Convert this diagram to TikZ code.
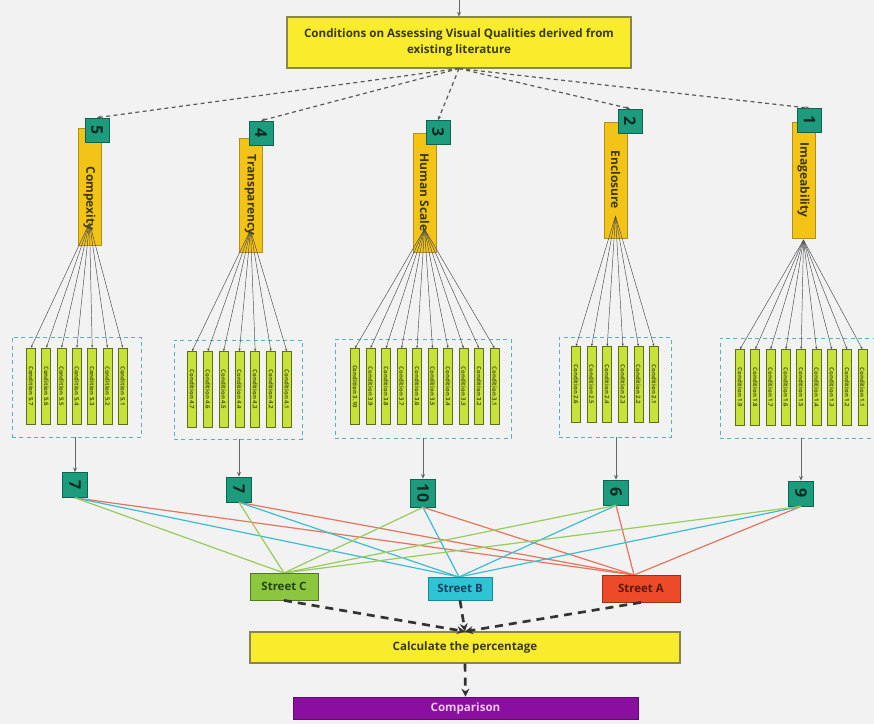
\documentclass[tikz,border=0pt]{standalone}
\usepackage{fontspec}
\setmainfont{Open Sans}
\usetikzlibrary{arrows.meta}
\definecolor{bgc}{HTML}{F2F2F2}
\definecolor{topfill}{HTML}{F8EC2C}
\definecolor{topbd}{HTML}{8A8550}
\definecolor{darktext}{HTML}{3A3A10}
\definecolor{catfill}{HTML}{F3C316}
\definecolor{catbd}{HTML}{B0901A}
\definecolor{numfill}{HTML}{1C9C7C}
\definecolor{numbd}{HTML}{0F6450}
\definecolor{numtext}{HTML}{0E2A22}
\definecolor{condfill}{HTML}{C8E23A}
\definecolor{condbd}{HTML}{5E6E1A}
\definecolor{grpbd}{HTML}{5AAFC4}
\definecolor{lgreen}{HTML}{96CC5A}
\definecolor{lcyan}{HTML}{3CBCD4}
\definecolor{lred}{HTML}{E4745C}
\definecolor{scfill}{HTML}{8CC63E}
\definecolor{scbd}{HTML}{4D7A20}
\definecolor{sctext}{HTML}{24440E}
\definecolor{sbfill}{HTML}{2EC4D6}
\definecolor{sbbd}{HTML}{1B8A98}
\definecolor{sbtext}{HTML}{1A4060}
\definecolor{safill}{HTML}{EC4A28}
\definecolor{sabd}{HTML}{A03018}
\definecolor{satext}{HTML}{5A1A10}
\definecolor{compfill}{HTML}{8A0EA0}
\definecolor{comptext}{HTML}{F4C8F0}
\begin{document}
\begin{tikzpicture}[x=0.75pt,y=-0.75pt,
  topbox/.style={draw=topbd, fill=topfill, line width=0.8pt, align=center, inner sep=0pt,
    font=\bfseries\fontsize{8.7}{11.5}\selectfont, text=darktext},
  catbar/.style={draw=catbd, fill=catfill, line width=0.5pt, minimum width=17.25pt, inner sep=0pt,
    font=\bfseries\fontsize{9}{10}\selectfont, text=darktext},
  numbox/.style={draw=numbd, fill=numfill, line width=0.5pt, minimum width=18pt, minimum height=18pt, inner sep=0pt,
    font=\bfseries\fontsize{12}{13}\selectfont, text=numtext},
  cntbox/.style={draw=numbd, fill=numfill, line width=0.5pt, minimum width=18.75pt, minimum height=18.75pt, inner sep=0pt,
    font=\bfseries\fontsize{12}{13}\selectfont, text=numtext},
  condbar/.style={draw=condbd, fill=condfill, line width=0.5pt, minimum width=6.75pt, minimum height=57pt, inner sep=0pt,
    font=\bfseries\fontsize{4.5}{5}\selectfont, text=condbd!80!black},
  grp/.style={draw=grpbd, line width=0.7pt, dash pattern=on 3pt off 2.5pt, inner sep=0pt},
  fan/.style={draw=black!70, line width=0.35pt, -{Stealth[length=2pt,width=1.6pt]}},
  topdash/.style={draw=black!65, line width=0.9pt, dash pattern=on 3pt off 2.5pt, -{Stealth[length=3pt,width=2.5pt]}},
  thinarr/.style={draw=black!60, line width=0.5pt, -{Stealth[length=3.5pt,width=3pt]}},
  gline/.style={draw=lgreen, line width=0.9pt},
  cline/.style={draw=lcyan, line width=0.9pt},
  rline/.style={draw=lred, line width=0.9pt},
  street/.style={line width=0.6pt, inner sep=0pt, font=\bfseries\fontsize{8.6}{10}\selectfont},
  bigdash/.style={draw=black!80, line width=2pt, dash pattern=on 6pt off 4.5pt, -{Stealth[length=6pt,width=6pt]}}
]
\clip (0,0) rectangle (874,724);
\fill[bgc] (0,0) rectangle (874,724);

% top box
\node[topbox, minimum width=258pt, minimum height=38.25pt] (top) at (459,42.5)
  {Conditions on Assessing Visual Qualities derived from\\existing literature};
\coordinate (topin) at (459,0);
\draw[thinarr] (topin) -- (top.north);

% category bars
\node[catbar, minimum height=87.75pt] (c5) at (89.5,186.5) {\rotatebox{-90}{\hspace*{18pt}Compexity}};
\node[catbar, minimum height=85.5pt] (c4) at (250.5,195) {\rotatebox{-90}{Transparency}};
\node[catbar, minimum height=89.25pt] (c3) at (424.5,192.5) {\rotatebox{-90}{Human Scale}};
\node[catbar, minimum height=87pt] (c2) at (615.5,180) {\rotatebox{-90}{Enclosure}};
\node[catbar, minimum height=87pt] (c1) at (803.5,180) {\rotatebox{-90}{Imageability}};

% number boxes
\node[numbox] (n5) at (97,130) {\rotatebox{-90}{5}};
\node[numbox] (n4) at (261,133) {\rotatebox{-90}{4}};
\node[numbox] (n3) at (438,132.5) {\rotatebox{-90}{3}};
\node[numbox] (n2) at (630,121) {\rotatebox{-90}{2}};
\node[numbox] (n1) at (809.5,120.5) {\rotatebox{-90}{1}};

\foreach \n in {n5,n4,n3,n2,n1} \draw[topdash] (top.south) -- (\n.north);

% apex coordinates of fans
\coordinate (a5) at (89.5,223);
\coordinate (a4) at (250.5,230);
\coordinate (a3) at (424.5,229);
\coordinate (a2) at (615.5,216);
\coordinate (a1) at (803.5,240);

% dashed groups
\node[grp, minimum width=96.75pt, minimum height=75pt] (g5) at (76.5,387) {};
\node[grp, minimum width=96pt, minimum height=74.25pt] (g4) at (238,389.5) {};
\node[grp, minimum width=132pt, minimum height=74.25pt] (g3) at (423,388.5) {};
\node[grp, minimum width=84pt, minimum height=75pt] (g2) at (615,387) {};
\node[grp, minimum width=123pt, minimum height=75pt] (g1) at (802,388) {};

% condition bars
\foreach \k in {0,...,6} {
  \pgfmathtruncatemacro{\lab}{7-\k}
  \node[condbar] (b5-\k) at (31+15.3*\k,386) {\rotatebox{-90}{Condition 5.\lab}};
  \draw[fan] (a5) -- (b5-\k.north);
}
\foreach \k in {0,...,6} {
  \pgfmathtruncatemacro{\lab}{7-\k}
  \node[condbar] (b4-\k) at (192+15.8*\k,389.5) {\rotatebox{-90}{Condition 4.\lab}};
  \draw[fan] (a4) -- (b4-\k.north);
}
\foreach \k in {0,...,9} {
  \pgfmathtruncatemacro{\lab}{10-\k}
  \node[condbar] (b3-\k) at (355+15.5*\k,386.5) {\rotatebox{-90}{Condition 3.\lab}};
  \draw[fan] (a3) -- (b3-\k.north);
}
\foreach \k in {0,...,5} {
  \pgfmathtruncatemacro{\lab}{6-\k}
  \node[condbar] (b2-\k) at (576+15.6*\k,384.5) {\rotatebox{-90}{Condition 2.\lab}};
  \draw[fan] (a2) -- (b2-\k.north);
}
\foreach \k in {0,...,8} {
  \pgfmathtruncatemacro{\lab}{9-\k}
  \node[condbar] (b1-\k) at (740+15.3*\k,387.5) {\rotatebox{-90}{Condition 1.\lab}};
  \draw[fan] (a1) -- (b1-\k.north);
}

% count boxes
\node[cntbox] (k5) at (75,485) {\rotatebox{-90}{7}};
\node[cntbox] (k4) at (239,489.5) {\rotatebox{-90}{7}};
\node[cntbox, minimum height=21pt] (k3) at (423,493) {\rotatebox{-90}{10}};
\node[cntbox] (k2) at (616,492.5) {\rotatebox{-90}{6}};
\node[cntbox] (k1) at (801,493.5) {\rotatebox{-90}{9}};

\foreach \g/\k in {g5/k5,g4/k4,g3/k3,g2/k2,g1/k1}
  \draw[thinarr] (\g.south -| \k.north) -- (\k.north);

% street line ends
\coordinate (sCt) at (284,573);
\coordinate (sBt) at (459,577);
\coordinate (sAt) at (634,575);

\foreach \k in {k5,k4,k3,k2,k1} {
  \draw[rline] (\k.south) -- (sAt);
  \draw[cline] (\k.south) -- (sBt);
  \draw[gline] (\k.south) -- (sCt);
}

\node[street, draw=scbd, fill=scfill, text=sctext, minimum width=51pt, minimum height=20.25pt] (sC) at (284,586.5) {Street C};
\node[street, draw=sbbd, fill=sbfill, text=sbtext, minimum width=48pt, minimum height=17.25pt] (sB) at (460,588.5) {Street B};
\node[street, draw=sabd, fill=safill, text=satext, minimum width=58.5pt, minimum height=20.25pt] (sA) at (641,588.5) {Street A};

% calculation and comparison
\node[topbox, minimum width=322.5pt, minimum height=23.25pt, font=\bfseries\fontsize{8.7}{10}\selectfont] (calc) at (465,647.5) {Calculate the percentage};
\node[draw=compfill!70!black, fill=compfill, text=comptext, line width=0.5pt, inner sep=0pt,
  minimum width=258.75pt, minimum height=16.5pt, font=\bfseries\fontsize{8.7}{10}\selectfont] (comp) at (465.5,708) {Comparison};

\draw[bigdash] (sC.south) -- (calc.north);
\draw[bigdash] (sB.south) -- (calc.north);
\draw[bigdash] (sA.south) -- (calc.north);
\draw[bigdash] (calc.south) -- (comp.north);
\end{tikzpicture}
\end{document}
